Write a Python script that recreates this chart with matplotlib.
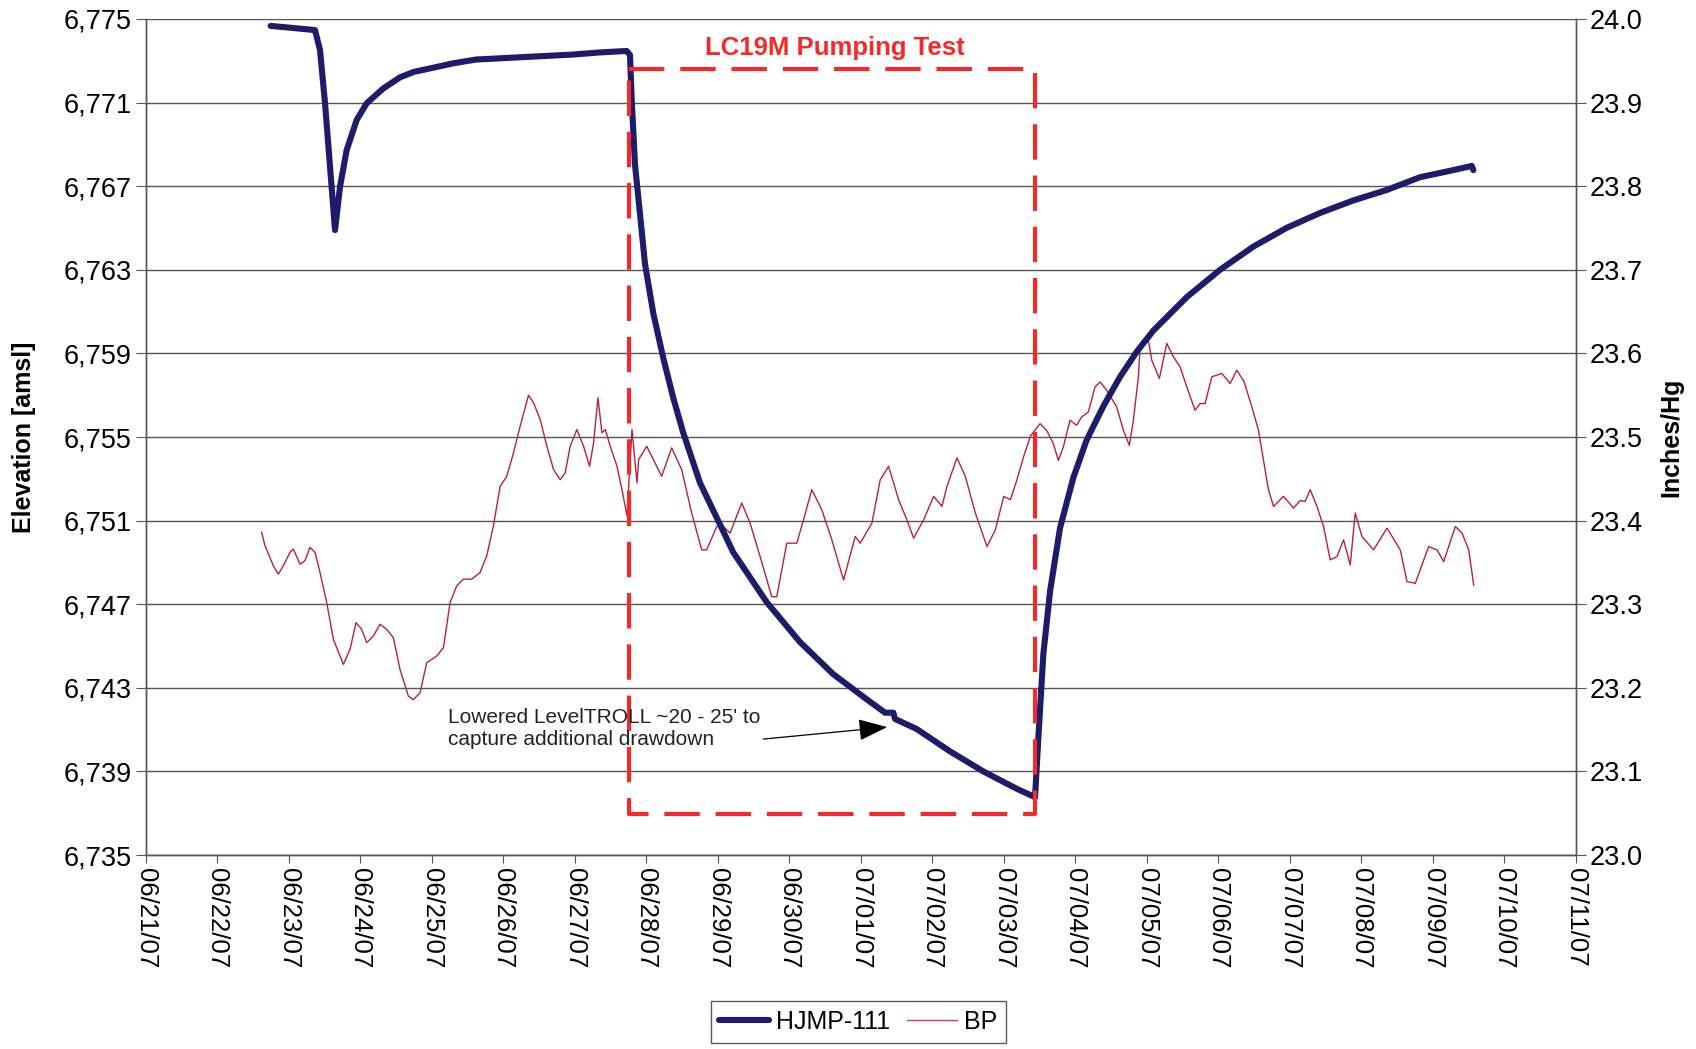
import numpy as np
import pandas as pd
import matplotlib
matplotlib.use("Agg")
import matplotlib.pyplot as plt
import matplotlib.dates as mdates
from matplotlib.ticker import FuncFormatter, MultipleLocator

plt.rcParams['font.family'] = ['Liberation Sans', 'DejaVu Sans']

START = pd.Timestamp('2007-06-21')

# HJMP-111 water level, days after 06/21/07 00:00 and elevation (ft amsl)
hjmp_day = [1.748, 2.368, 2.438, 2.508, 2.578, 2.648, 2.718, 2.811, 2.951, 3.091,
            3.324, 3.557, 3.75, 4.01, 4.30, 4.62, 5.53, 5.98, 6.354, 6.727, 6.773, 6.797,
            6.843, 6.913, 6.983, 7.100, 7.240, 7.379, 7.519, 7.752, 7.986, 8.218,
            8.685, 9.151, 9.617, 10.084, 10.340, 10.456, 10.480, 10.783, 11.249, 11.715,
            12.182, 12.438, 12.484, 12.554, 12.648, 12.787, 12.973, 13.160, 13.393, 13.627,
            13.860, 14.092, 14.559, 15.025, 15.491, 15.958, 16.424, 16.890, 17.357, 17.822,
            18.288, 18.545, 18.568]
hjmp_elev = [6774.67, 6774.47, 6773.52, 6770.97, 6767.93, 6764.90, 6766.98, 6768.73, 6770.17, 6770.97,
             6771.68, 6772.21, 6772.47, 6772.66, 6772.88, 6773.06, 6773.22, 6773.30, 6773.40, 6773.47,
             6773.28, 6771.14,
             6768.04, 6765.67, 6763.28, 6760.90, 6758.76, 6756.86, 6755.19, 6752.81, 6751.14, 6749.48,
             6747.10, 6745.19, 6743.65, 6742.45, 6741.81, 6741.81, 6741.51, 6741.03, 6739.96, 6739.00,
             6738.17, 6737.77, 6740.59, 6744.61, 6747.62, 6750.64, 6753.05, 6754.86, 6756.47, 6757.88,
             6759.08, 6760.09, 6761.69, 6763.00, 6764.11, 6765.01, 6765.72, 6766.32, 6766.82, 6767.43,
             6767.77, 6767.97, 6767.77]

# barometric pressure (inches Hg)
bp_day = [1.622, 1.668, 1.785, 1.855, 1.925, 2.018, 2.065, 2.158, 2.228, 2.298,
          2.368, 2.438, 2.532, 2.625, 2.765, 2.858, 2.942, 3.021, 3.091, 3.184,
          3.277, 3.371, 3.464, 3.557, 3.674, 3.744, 3.837, 3.930, 4.070, 4.164,
          4.257, 4.350, 4.444, 4.560, 4.677, 4.770, 4.864, 4.957, 5.050, 5.144,
          5.237, 5.354, 5.424, 5.517, 5.611, 5.704, 5.797, 5.867, 5.937, 6.030,
          6.124, 6.208, 6.264, 6.325, 6.381, 6.427, 6.497, 6.591, 6.661, 6.731,
          6.801, 6.871, 6.894, 7.007, 7.100, 7.216, 7.356, 7.496, 7.636, 7.776,
          7.846, 7.986, 8.080, 8.173, 8.336, 8.453, 8.593, 8.756, 8.826, 8.966,
          9.106, 9.200, 9.316, 9.456, 9.596, 9.760, 9.923, 9.993, 10.156, 10.273,
          10.390, 10.530, 10.646, 10.740, 10.880, 11.020, 11.136, 11.206, 11.346, 11.463,
          11.603, 11.766, 11.883, 12.000, 12.093, 12.186, 12.280, 12.373, 12.508, 12.600,
          12.694, 12.764, 12.834, 12.927, 13.020, 13.090, 13.184, 13.277, 13.347, 13.440,
          13.580, 13.674, 13.757, 13.813, 13.883, 13.907, 14.010, 14.070, 14.177, 14.280,
          14.373, 14.466, 14.560, 14.676, 14.746, 14.816, 14.910, 15.050, 15.166, 15.260,
          15.362, 15.470, 15.563, 15.633, 15.703, 15.773, 15.913, 16.053, 16.146, 16.216,
          16.286, 16.380, 16.473, 16.566, 16.660, 16.753, 16.846, 16.916, 17.010, 17.173,
          17.360, 17.546, 17.640, 17.756, 17.943, 18.060, 18.153, 18.316, 18.410, 18.503,
          18.573]
bp_val = [23.386, 23.370, 23.346, 23.336, 23.346, 23.362, 23.366, 23.348, 23.352, 23.368,
          23.362, 23.338, 23.302, 23.258, 23.228, 23.246, 23.278, 23.270, 23.254, 23.262,
          23.276, 23.270, 23.260, 23.222, 23.190, 23.186, 23.194, 23.230, 23.238, 23.248,
          23.302, 23.322, 23.330, 23.330, 23.338, 23.358, 23.394, 23.441, 23.453, 23.481,
          23.513, 23.550, 23.541, 23.521, 23.489, 23.461, 23.449, 23.457, 23.489, 23.509,
          23.489, 23.465, 23.493, 23.547, 23.505, 23.509, 23.489, 23.465, 23.437, 23.406,
          23.509, 23.445, 23.473, 23.489, 23.473, 23.453, 23.487, 23.461, 23.409, 23.365,
          23.365, 23.393, 23.393, 23.385, 23.421, 23.397, 23.357, 23.309, 23.309, 23.373,
          23.373, 23.401, 23.437, 23.413, 23.377, 23.329, 23.381, 23.373, 23.397, 23.449,
          23.465, 23.425, 23.401, 23.379, 23.401, 23.429, 23.417, 23.441, 23.475, 23.453,
          23.409, 23.369, 23.389, 23.429, 23.425, 23.449, 23.477, 23.501, 23.516, 23.508,
          23.492, 23.472, 23.488, 23.520, 23.514, 23.524, 23.530, 23.560, 23.566, 23.556,
          23.536, 23.508, 23.490, 23.520, 23.572, 23.608, 23.622, 23.592, 23.570, 23.612,
          23.596, 23.584, 23.560, 23.532, 23.540, 23.540, 23.572, 23.576, 23.564, 23.580,
          23.566, 23.536, 23.508, 23.472, 23.437, 23.417, 23.429, 23.415, 23.424, 23.423,
          23.437, 23.417, 23.393, 23.353, 23.357, 23.377, 23.347, 23.409, 23.381, 23.365,
          23.391, 23.365, 23.327, 23.325, 23.369, 23.365, 23.351, 23.393, 23.385, 23.365,
          23.323]

# pumping test window (days) and box elevations
pump_start, pump_end = 6.764, 12.438
box_top, box_bottom = 6772.61, 6736.98


def to_dates(days):
    return START + pd.to_timedelta(np.asarray(days), unit='D')


fig = plt.figure(figsize=(16.96, 10.49), dpi=100)
ax = fig.add_axes([0.0859, 0.1849, 0.8432, 0.797])
ax2 = ax.twinx()

# blue line drawn above the pressure trace
ax.set_zorder(ax2.get_zorder() + 1)
ax.patch.set_visible(False)

ax2.plot(to_dates(bp_day), bp_val, color='#b82040', lw=1.0, label='BP')
l1, = ax.plot(to_dates(hjmp_day), hjmp_elev, color='#1c1c6b', lw=4.4,
              solid_capstyle='round', solid_joinstyle='round', label='HJMP-111')

# pumping test box
bx = to_dates([pump_start, pump_end, pump_end, pump_start, pump_start])
ax.plot(bx, [box_top, box_top, box_bottom, box_bottom, box_top],
        color='#f42a2a', lw=3.0, dashes=(8.5, 3.8))
ax.text(to_dates([9.64])[0], 6773.61, 'LC19M Pumping Test', color='#f42a2a',
        fontsize=18.5, fontweight='bold', ha='center', va='center')

ax.annotate("Lowered LevelTROLL ~20 - 25' to\ncapture additional drawdown",
            xy=(to_dates([10.37])[0], 6741.12), xytext=(to_dates([4.23])[0], 6741.05),
            fontsize=15, ha='left', va='center', color='#222222',
            arrowprops=dict(arrowstyle='-|>,head_length=1.2,head_width=0.45',
                            color='black', lw=0.9, shrinkA=0, shrinkB=0,
                            relpos=(0.84, 0.12)))

# axes
ax.set_xlim(START, START + pd.Timedelta(days=20))
ax.set_ylim(6735, 6775)
ax2.set_ylim(23.0, 24.0)
ax.set_yticks(np.arange(6735, 6776, 4))
ax.yaxis.set_major_formatter(FuncFormatter(lambda v, p: f'{v:,.0f}'))
ax2.yaxis.set_major_locator(MultipleLocator(0.1))
ax2.yaxis.set_major_formatter(FuncFormatter(lambda v, p: f'{v:.1f}'))
ax.xaxis.set_major_locator(mdates.DayLocator())
ax.xaxis.set_major_formatter(mdates.DateFormatter('%m/%d/%y'))

ax.grid(axis='y', color='#555555', lw=1.0)
ax.grid(axis='x', visible=False)

for a in (ax, ax2):
    a.spines['top'].set_visible(False)
    for s in ('left', 'right', 'bottom'):
        a.spines[s].set_color('#555555')
        a.spines[s].set_linewidth(1.0)

ax.tick_params(axis='y', labelsize=19.5, length=7, color='#555555', pad=3)
ax2.tick_params(axis='y', labelsize=19.5, length=7, color='#555555', pad=3)
ax.tick_params(axis='x', labelsize=18.5, length=6, color='#555555', pad=3)
for lbl in ax.get_xticklabels():
    lbl.set_rotation(270)
    lbl.set_va('top')
    lbl.set_ha('center')

fig.text(24 / 1696, 0.5834, 'Elevation [amsl]', rotation=90, fontsize=18,
         fontweight='bold', ha='center', va='center')
fig.text(1671 / 1696, 0.5834, 'Inches/Hg', rotation=90, fontsize=18,
         fontweight='bold', ha='center', va='center')

bp_handle = plt.Line2D([], [], color='#d04070', lw=1.0)
leg = fig.legend([l1, bp_handle], ['HJMP-111', 'BP'], loc='center',
                 bbox_to_anchor=(0.506, 0.0257), ncol=2, fontsize=18,
                 frameon=True, fancybox=False, handlelength=2.0,
                 columnspacing=0.7, handletextpad=0.25, borderpad=0.35,
                 borderaxespad=0.2)
leg.get_frame().set_edgecolor('#333333')
leg.get_frame().set_linewidth(1.0)

fig.savefig('out.png', dpi=100)
